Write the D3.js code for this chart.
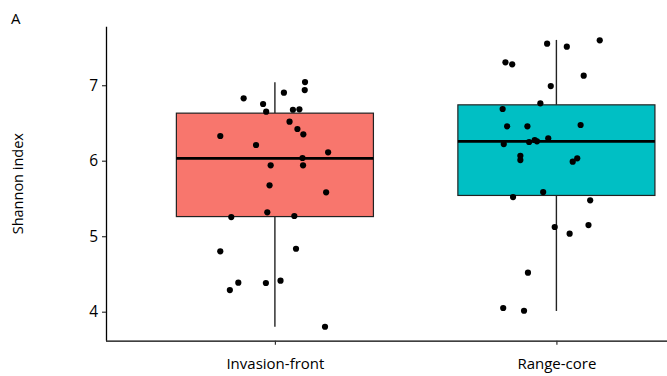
<!DOCTYPE html>
<html>
<head>
<meta charset="utf-8">
<script src="https://cdn.jsdelivr.net/npm/d3@7"></script>
<style>
  html, body { margin: 0; padding: 0; background: #fff; }
  svg { display: block; }
  text { font-family: "Open Sans", "Noto Sans", sans-serif; fill: #000; }
</style>
</head>
<body>
<svg id="chart" width="667" height="376"></svg>
<script>
// Groups and their fill colours
const categories = ["Invasion-front", "Range-core"];
const colors = ["#F8766D", "#00BFC4"];

// Box summaries per group: lower whisker, Q1, median, Q3, upper whisker
const whiskerLow = [3.80, 4.01];
const q1 = [5.26, 5.54];
const medians = [6.03, 6.255];
const q3 = [6.63, 6.74];
const whiskerHigh = [7.04, 7.60];

// Individual Shannon index values (with horizontal jitter, in category units)
const frontValues = [6.826, 6.751, 6.649, 6.901, 7.042, 6.936, 6.675, 6.681, 6.517, 6.420,
  6.350, 6.327, 6.208, 6.111, 6.036, 5.939, 5.939, 5.674, 5.581, 5.254,
  5.317, 5.268, 4.800, 4.834, 4.384, 4.287, 4.380, 4.411, 3.801];
const frontJitter = [-0.111, -0.042, -0.031, 0.032, 0.107, 0.106, 0.064, 0.087, 0.052, 0.080,
  0.101, -0.194, -0.067, 0.189, 0.098, -0.015, 0.100, -0.019, 0.182, -0.155,
  -0.027, 0.069, -0.194, 0.075, -0.130, -0.160, -0.032, 0.020, 0.178];
const coreValues = [7.550, 7.510, 7.595, 7.303, 7.277, 7.126, 6.989, 6.760, 6.685, 6.456,
  6.456, 6.473, 6.297, 6.274, 6.257, 6.248, 6.221, 6.066, 6.009, 6.032,
  5.987, 5.585, 5.519, 5.475, 5.122, 5.033, 5.148, 4.517, 4.049, 4.013];
const coreJitter = [-0.033, 0.037, 0.154, -0.181, -0.157, 0.097, -0.020, -0.057, -0.191, -0.175,
  -0.103, 0.086, -0.029, -0.077, -0.069, -0.097, -0.187, -0.128, -0.128, 0.074,
  0.058, -0.047, -0.154, 0.120, -0.006, 0.047, 0.114, -0.101, -0.189, -0.115];

const yTicks = [4, 5, 6, 7];

const svg = d3.select("#chart");
const plotLeft = 106, plotTop = 26.7, plotBottom = 340.7;

// Discrete positions 1..n, expanded by 0.6 on each side
const x = d3.scaleLinear().domain([0.4, 2.6]).range([plotLeft, plotLeft + 2.2 * 281.5]);
const y = d3.scaleLinear().domain([3.616, 7.775]).range([plotBottom, plotTop]);
const boxHalf = 0.35;

const groups = categories.map((c, i) => ({
  name: c, pos: i + 1, color: colors[i],
  lo: whiskerLow[i], q1: q1[i], med: medians[i], q3: q3[i], hi: whiskerHigh[i]
}));

const g = svg.append("g");

// Whiskers
g.selectAll("line.whisker-up").data(groups).join("line")
  .attr("class", "whisker-up")
  .attr("x1", d => x(d.pos)).attr("x2", d => x(d.pos))
  .attr("y1", d => y(d.q3)).attr("y2", d => y(d.hi))
  .attr("stroke", "#222").attr("stroke-width", 1.4);
g.selectAll("line.whisker-down").data(groups).join("line")
  .attr("class", "whisker-down")
  .attr("x1", d => x(d.pos)).attr("x2", d => x(d.pos))
  .attr("y1", d => y(d.q1)).attr("y2", d => y(d.lo))
  .attr("stroke", "#222").attr("stroke-width", 1.4);

// Boxes
g.selectAll("rect.box").data(groups).join("rect")
  .attr("class", "box")
  .attr("x", d => x(d.pos - boxHalf))
  .attr("width", d => x(d.pos + boxHalf) - x(d.pos - boxHalf))
  .attr("y", d => y(d.q3))
  .attr("height", d => y(d.q1) - y(d.q3))
  .attr("fill", d => d.color)
  .attr("stroke", "#222").attr("stroke-width", 1.2);

// Medians
g.selectAll("line.median").data(groups).join("line")
  .attr("class", "median")
  .attr("x1", d => x(d.pos - boxHalf)).attr("x2", d => x(d.pos + boxHalf))
  .attr("y1", d => y(d.med)).attr("y2", d => y(d.med))
  .attr("stroke", "#000").attr("stroke-width", 2.8);

// Jittered points
const points = [
  ...frontValues.map((v, i) => ({ pos: 1 + frontJitter[i], v })),
  ...coreValues.map((v, i) => ({ pos: 2 + coreJitter[i], v }))
];
g.selectAll("circle.pt").data(points).join("circle")
  .attr("class", "pt")
  .attr("cx", d => x(d.pos)).attr("cy", d => y(d.v))
  .attr("r", 3.1).attr("fill", "#000");

// Axes
const yAxis = d3.axisLeft(y).tickValues(yTicks).tickFormat(d3.format("d")).tickSize(4).tickPadding(4);
const yg = svg.append("g").attr("transform", `translate(${plotLeft},0)`).call(yAxis);
yg.select(".domain").attr("d", `M0.5,${plotTop}V${plotBottom}`).attr("stroke", "#000").attr("stroke-width", 1.3);
yg.selectAll(".tick line").attr("stroke", "#333").attr("stroke-width", 1.2);
yg.selectAll(".tick text").attr("font-size", 15.5).attr("fill", "#111")
  .style("font-family", '"Open Sans", sans-serif');

const xAxis = d3.axisBottom(x).tickValues([1, 2]).tickFormat(d => categories[d - 1]).tickSize(4).tickPadding(14);
const xg = svg.append("g").attr("transform", `translate(0,${plotBottom})`).call(xAxis);
xg.select(".domain").attr("d", `M${plotLeft},0.5H667`).attr("stroke", "#000").attr("stroke-width", 1.3);
xg.selectAll(".tick line").attr("stroke", "#333").attr("stroke-width", 1.2);
xg.selectAll(".tick text").attr("font-size", 15).attr("fill", "#111")
  .style("font-family", '"Open Sans", sans-serif');

// Axis title and panel tag
svg.append("text")
  .attr("transform", `translate(23,${(plotTop + plotBottom) / 2}) rotate(-90)`)
  .attr("text-anchor", "middle")
  .attr("font-size", 14.5)
  .text("Shannon index");

svg.append("text")
  .attr("x", 11).attr("y", 24)
  .attr("font-size", 15)
  .text("A");
</script>
</body>
</html>
